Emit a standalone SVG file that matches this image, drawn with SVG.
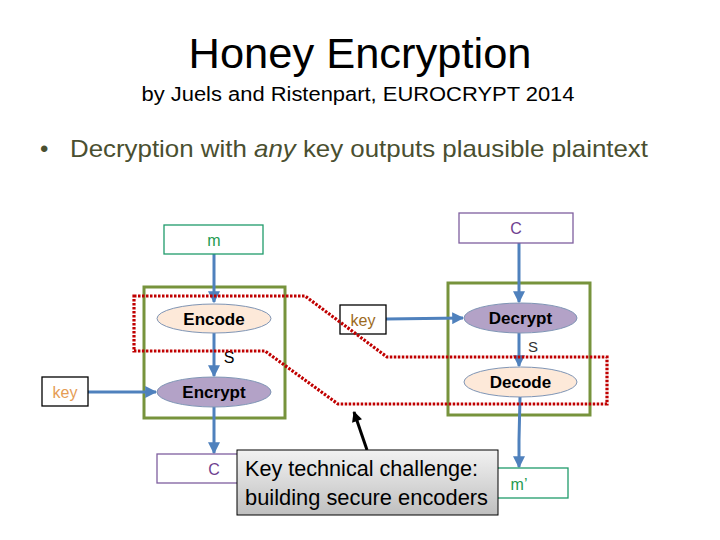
<svg xmlns="http://www.w3.org/2000/svg" width="720" height="540" viewBox="0 0 720 540">
<defs>
<style>
text{font-family:"Liberation Sans",Arial,sans-serif}
.box{fill:#fff;stroke-width:1.3}
.grp{fill:none;stroke:#77933c;stroke-width:3}
.conn{fill:none;stroke:#4f81bd;stroke-width:3;marker-end:url(#ah)}
.ell-p{fill:#b3a2c7;stroke:#7f95b5;stroke-width:1}
.ell-e{fill:#fde9d9;stroke:#7f95b5;stroke-width:1}
.lbl{font-size:17px;font-weight:bold;fill:#000;text-anchor:middle}
.node{font-size:16px;text-anchor:middle}
</style>
<marker id="ah" viewBox="0 0 10 10" refX="9" refY="5" markerWidth="4" markerHeight="4" orient="auto" markerUnits="strokeWidth">
<path d="M0,0 L10,5 L0,10 z" fill="#4f81bd"/>
</marker>
<marker id="bh" viewBox="0 0 10 10" refX="9" refY="5" markerWidth="4" markerHeight="3.5" orient="auto" markerUnits="strokeWidth">
<path d="M0,0 L10,5 L0,10 z" fill="#000"/>
</marker>
<linearGradient id="gg" x1="0" y1="0" x2="0" y2="1">
<stop offset="0" stop-color="#f2f2f2"/>
<stop offset="1" stop-color="#bfbfbf"/>
</linearGradient>
</defs>
<rect width="720" height="540" fill="#fff"/>
<text x="360" y="68" font-size="42" text-anchor="middle" textLength="343" lengthAdjust="spacingAndGlyphs">Honey Encryption</text>
<text x="358" y="101" font-size="19.5" text-anchor="middle" textLength="433" lengthAdjust="spacingAndGlyphs">by Juels and Ristenpart, EUROCRYPT 2014</text>
<text x="40" y="157" font-size="24" fill="#4a4f30">•</text>
<text x="70" y="157" font-size="24" fill="#4a4f30" textLength="578" lengthAdjust="spacingAndGlyphs">Decryption with <tspan font-style="italic">any</tspan> key outputs plausible plaintext</text>

<g id="groupLeft"><rect class="grp" x="144" y="287" width="141" height="131"/></g>
<g id="groupRight"><rect class="grp" x="448" y="283" width="142" height="132"/></g>

<g id="connectors">
<line class="conn" x1="214" y1="254" x2="214" y2="302"/>
<line class="conn" x1="214" y1="333" x2="214" y2="376"/>
<line class="conn" x1="88" y1="392" x2="156" y2="392"/>
<line class="conn" x1="214" y1="407" x2="214" y2="453"/>
<line class="conn" x1="519" y1="243" x2="519" y2="302"/>
<line class="conn" x1="386" y1="319" x2="463" y2="318"/>
<line class="conn" x1="519" y1="333" x2="519" y2="366"/>
<polyline class="conn" points="520,397 519,440 519,467"/>
</g>

<g id="m"><rect class="box" x="164" y="225" width="99" height="29" stroke="#1f9b6b"/><text class="node" x="214" y="246" fill="#1f9b50">m</text></g>
<g id="encode"><ellipse class="ell-e" cx="214" cy="318.5" rx="57" ry="14.5"/><text class="lbl" x="214" y="324.5">Encode</text></g>
<g id="s1"><text x="229" y="363" font-size="16" text-anchor="middle">S</text></g>
<g id="encrypt"><ellipse class="ell-p" cx="214" cy="392" rx="57" ry="15"/><text class="lbl" x="214" y="398">Encrypt</text></g>
<g id="keyLeft"><rect class="box" x="42" y="377" width="46" height="29" stroke="#000"/><text class="node" x="65" y="398" fill="#e59c54">key</text></g>
<g id="cLeft"><rect class="box" x="157" y="454" width="113" height="29" stroke="#7f5f9f"/><text class="node" x="214" y="475" fill="#6f3f8f">C</text></g>

<g id="cRight"><rect class="box" x="459" y="213" width="114" height="30" stroke="#7f5f9f"/><text class="node" x="516" y="234" fill="#6f3f8f">C</text></g>
<g id="keyMid"><rect class="box" x="340" y="305" width="46" height="29" stroke="#000"/><text class="node" x="363" y="326" fill="#9c6a1c">key</text></g>
<g id="decrypt"><ellipse class="ell-p" cx="520.5" cy="318" rx="56.5" ry="15"/><text class="lbl" x="520.5" y="324">Decrypt</text></g>
<g id="s2"><text x="533" y="352" font-size="15" fill="#333" text-anchor="middle">S</text></g>
<g id="decode"><ellipse class="ell-e" cx="520.5" cy="382" rx="56.5" ry="15"/><text class="lbl" x="520.5" y="388">Decode</text></g>
<g id="mPrime"><rect class="box" x="470" y="468" width="98" height="30" stroke="#1f9b6b"/><text class="node" x="519" y="490" fill="#1f9b50">m’</text></g>

<g id="highlight"><polygon points="134,296 305,296 387,357 607,357 607,404 338,404 265,351 134,351" fill="none" stroke="#c00000" stroke-width="3.2" stroke-dasharray="2.5 1.5"/></g>

<g id="callout">
<line x1="367" y1="450" x2="354" y2="412" stroke="#000" stroke-width="3" marker-end="url(#bh)"/>
<rect x="237" y="450" width="261" height="65" fill="url(#gg)" stroke="#000" stroke-width="1"/>
<text x="245" y="476" font-size="22" font-family="'Open Sans','Liberation Sans',sans-serif" textLength="233" lengthAdjust="spacingAndGlyphs">Key technical challenge:</text>
<text x="245" y="505" font-size="22" font-family="'Open Sans','Liberation Sans',sans-serif" textLength="243" lengthAdjust="spacingAndGlyphs">building secure encoders</text>
</g>
</svg>
